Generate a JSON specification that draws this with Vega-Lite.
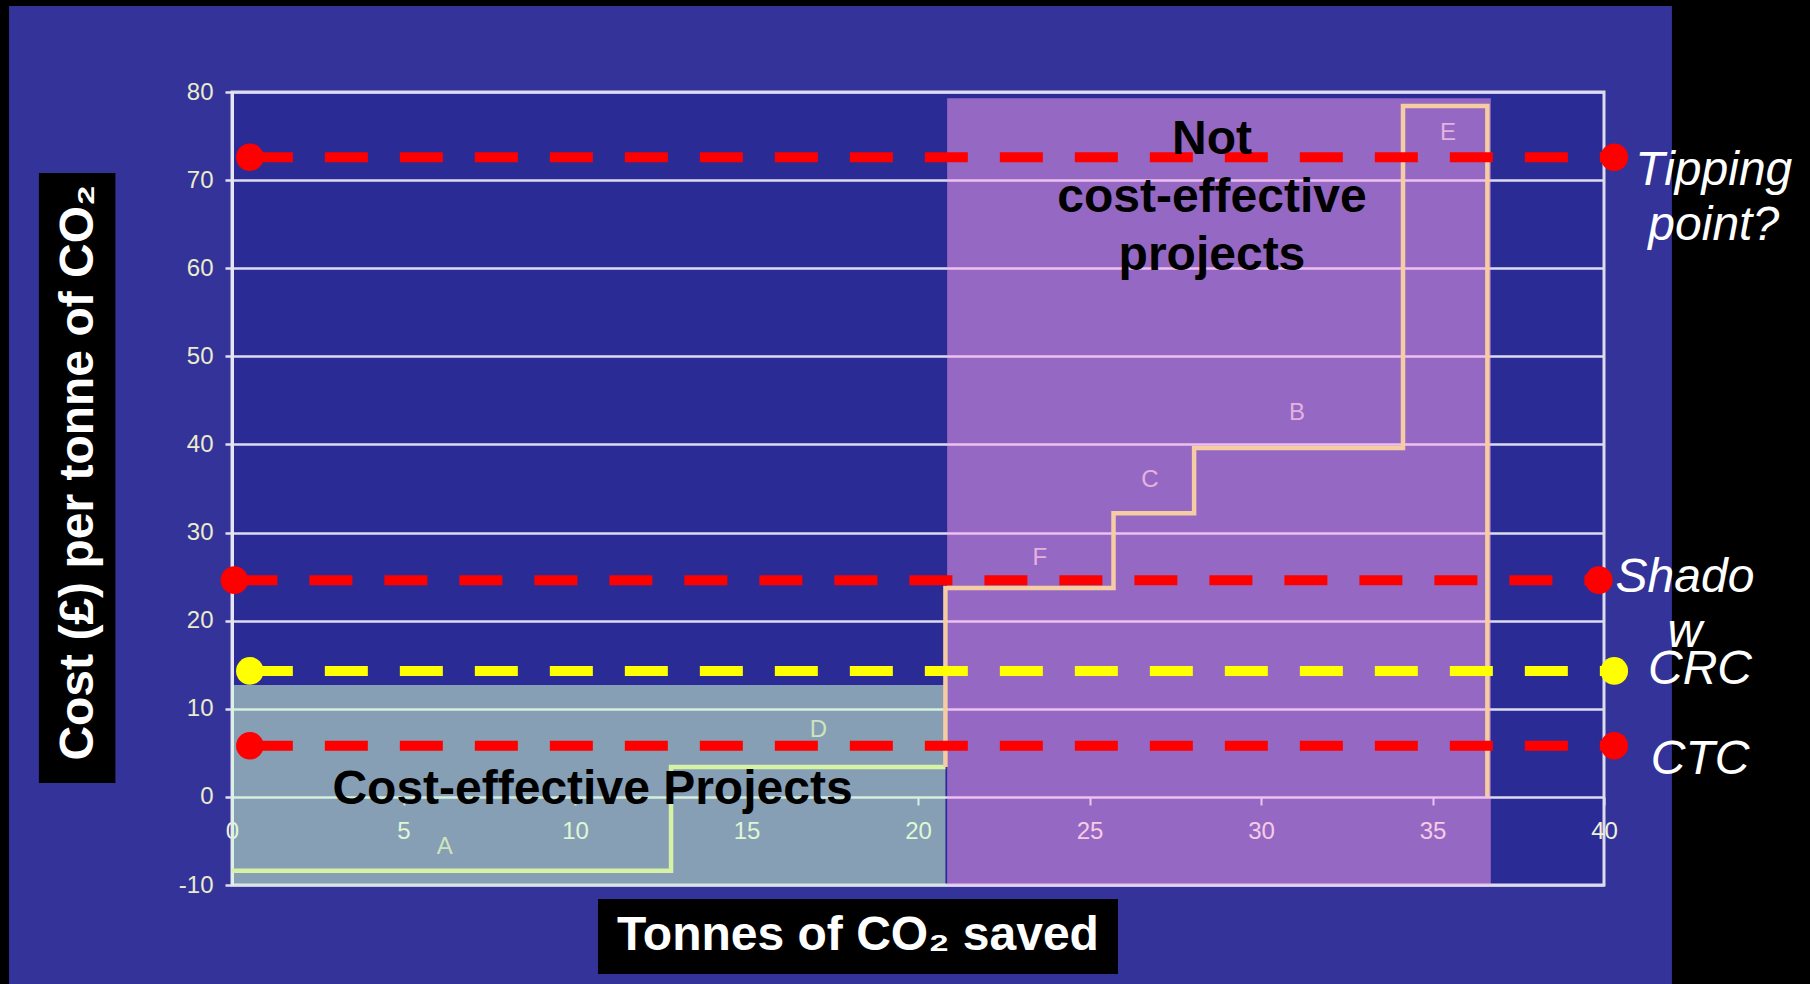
{
  "$schema": "https://vega.github.io/schema/vega-lite/v6.json",
  "width": 1372,
  "height": 793,
  "autosize": {"type": "none"},
  "padding": {"left": 232, "top": 92, "right": 206, "bottom": 99},
  "background": "#333399",
  "config": {
    "view": {"fill": "#2b2b96", "stroke": "#dcdcee", "strokeWidth": 3},
    "font": "Liberation Sans"
  },
  "datasets": {
    "frame": [
      {"part": "right edge", "x": 41.98, "x2": 48, "y": 96, "y2": -26},
      {"part": "top edge", "x": -8, "x2": 48, "y": 96, "y2": 89.76},
      {"part": "left edge", "x": -8, "x2": -6.5, "y": 96, "y2": -26},
      {"part": "y title box", "x": -5.63, "x2": -3.4, "y": 70.8, "y2": 1.57},
      {"part": "x title box", "x": 10.67, "x2": 25.83, "y": -11.59, "y2": -20.1}
    ],
    "regions": [
      {"zone": "cost-effective", "x": 0, "x2": 20.8, "y": -10, "y2": 12.7},
      {"zone": "not", "x": 20.85, "x2": 36.7, "y": -10, "y2": 79.3}
    ],
    "steps": [
      {"i": 1, "segment": "cost-effective", "x": 0, "y": -8.38},
      {"i": 2, "segment": "cost-effective", "x": 12.8, "y": 3.4},
      {"i": 3, "segment": "cost-effective", "x": 20.8, "y": 3.4},
      {"i": 4, "segment": "not", "x": 20.8, "y": 3.4},
      {"i": 5, "segment": "not", "x": 20.8, "y": 23.7},
      {"i": 6, "segment": "not", "x": 25.7, "y": 32.2},
      {"i": 7, "segment": "not", "x": 28.05, "y": 39.6},
      {"i": 8, "segment": "not", "x": 34.14, "y": 78.4},
      {"i": 9, "segment": "not", "x": 36.6, "y": 0}
    ],
    "projectLabels": [
      {"project": "A", "zone": "cost-effective", "x": 6.2, "y": -5.7},
      {"project": "D", "zone": "cost-effective", "x": 17.1, "y": 7.6},
      {"project": "F", "zone": "not", "x": 23.55, "y": 27.1},
      {"project": "C", "zone": "not", "x": 26.76, "y": 36.0},
      {"project": "B", "zone": "not", "x": 31.05, "y": 43.6},
      {"project": "E", "zone": "not", "x": 35.45, "y": 75.3}
    ],
    "refs": [
      {"policy": "Tipping point?", "x": 0.52, "y": 72.6},
      {"policy": "Tipping point?", "x": 40.3, "y": 72.6},
      {"policy": "Shadow", "x": 0.07, "y": 24.6},
      {"policy": "Shadow", "x": 39.85, "y": 24.6},
      {"policy": "CRC", "x": 0.52, "y": 14.3},
      {"policy": "CRC", "x": 40.3, "y": 14.3},
      {"policy": "CTC", "x": 0.52, "y": 5.8},
      {"policy": "CTC", "x": 40.3, "y": 5.8}
    ],
    "refLabels": [
      {"label": "Tipping\npoint?", "x": 43.2, "y": 69.4},
      {"label": "Shado\nw", "x": 42.36, "y": 23.3},
      {"label": "CRC", "x": 42.8, "y": 12.8},
      {"label": "CTC", "x": 42.8, "y": 2.6}
    ],
    "zoneLabels": [
      {"label": "Not\ncost-effective\nprojects", "x": 28.57, "y": 73.0},
      {"label": "Cost-effective Projects", "x": 10.51, "y": -0.8}
    ],
    "xTitle": [
      {"label": "Tonnes of CO₂ saved", "x": 18.25, "y": -15.8}
    ],
    "yTitle": [
      {"label": "Cost (£) per tonne of CO₂", "x": -4.46, "y": 36.8}
    ]
  },
  "encoding": {
    "x": {
      "field": "x",
      "type": "quantitative",
      "scale": {"domain": [0, 40], "nice": false, "zero": false},
      "axis": {
        "title": null,
        "values": [0, 5, 10, 15, 20, 25, 30, 35, 40],
        "offset": -88,
        "domain": false,
        "grid": false,
        "ticks": true,
        "tickSize": 8,
        "tickWidth": 2,
        "tickColor": "#e0e0ee",
        "labelFontSize": 24,
        "labelColor": "#eef0dc",
        "labelPadding": 14,
        "labelBaseline": "top",
        "labelFlush": false,
        "labelOverlap": false
      }
    },
    "y": {
      "field": "y",
      "type": "quantitative",
      "scale": {"domain": [-10, 80], "nice": false, "zero": false},
      "axis": {
        "title": null,
        "values": [-10, 0, 10, 20, 30, 40, 50, 60, 70, 80],
        "labelExpr": "replace(datum.label, '−', '-')",
        "grid": true,
        "gridColor": "#dcdcee",
        "gridWidth": 2.5,
        "domain": true,
        "domainColor": "#e6e6f2",
        "domainWidth": 3,
        "tickSize": 7,
        "tickWidth": 2.5,
        "tickColor": "#e0e0ee",
        "labelFontSize": 24,
        "labelColor": "#eaeccc",
        "labelPadding": 12,
        "labelFlush": false,
        "labelOverlap": false
      }
    }
  },
  "layer": [
    {
      "data": {"name": "regions"},
      "mark": {"type": "rect"},
      "encoding": {
        "x2": {"field": "x2"},
        "y2": {"field": "y2"},
        "color": {
          "field": "zone",
          "type": "nominal",
          "scale": {"domain": ["cost-effective", "not"], "range": ["#d2ffd0", "#ffa5f2"]},
          "legend": null
        },
        "opacity": {
          "field": "zone",
          "type": "nominal",
          "scale": {"domain": ["cost-effective", "not"], "range": [0.55, 0.5]},
          "legend": null
        }
      }
    },
    {
      "data": {"name": "frame"},
      "mark": {"type": "rect", "color": "#000000"},
      "encoding": {
        "x2": {"field": "x2"},
        "y2": {"field": "y2"}
      }
    },
    {
      "data": {"name": "steps"},
      "mark": {"type": "line", "interpolate": "step-after", "strokeWidth": 4.5, "strokeJoin": "miter"},
      "encoding": {
        "color": {
          "field": "segment",
          "type": "nominal",
          "scale": {"domain": ["cost-effective", "not"], "range": ["#d6f2a4", "#f6cca2"]},
          "legend": null
        },
        "order": {"field": "i", "type": "quantitative"}
      }
    },
    {
      "data": {"name": "projectLabels"},
      "mark": {"type": "text", "fontSize": 24, "align": "center", "baseline": "middle", "opacity": 0.85},
      "encoding": {
        "text": {"field": "project"},
        "color": {
          "field": "zone",
          "type": "nominal",
          "scale": {"domain": ["cost-effective", "not"], "range": ["#dcefc0", "#f2c0e2"]},
          "legend": null
        }
      }
    },
    {
      "data": {"name": "refs"},
      "mark": {"type": "line", "strokeWidth": 10, "strokeDash": [43, 32], "point": {"filled": true, "size": 760}},
      "encoding": {
        "color": {
          "field": "policy",
          "type": "nominal",
          "scale": {"domain": ["Tipping point?", "Shadow", "CRC", "CTC"], "range": ["#ff0000", "#ff0000", "#ffff00", "#ff0000"]},
          "legend": null
        }
      }
    },
    {
      "data": {"name": "refLabels"},
      "mark": {"type": "text", "fontSize": 48, "fontStyle": "italic", "color": "#ffffff", "align": "center", "baseline": "alphabetic", "lineBreak": "\n", "lineHeight": 55},
      "encoding": {"text": {"field": "label"}}
    },
    {
      "data": {"name": "zoneLabels"},
      "mark": {"type": "text", "fontSize": 48, "fontWeight": "bold", "color": "#000000", "align": "center", "baseline": "alphabetic", "lineBreak": "\n", "lineHeight": 58},
      "encoding": {"text": {"field": "label"}}
    },
    {
      "data": {"name": "xTitle"},
      "mark": {"type": "text", "fontSize": 48, "fontWeight": "bold", "color": "#ffffff", "align": "center", "baseline": "middle"},
      "encoding": {"text": {"field": "label"}}
    },
    {
      "data": {"name": "yTitle"},
      "mark": {"type": "text", "fontSize": 48, "fontWeight": "bold", "color": "#ffffff", "align": "center", "baseline": "middle", "angle": 270},
      "encoding": {"text": {"field": "label"}}
    }
  ],
  "resolve": {"scale": {"color": "independent", "opacity": "independent"}}
}
